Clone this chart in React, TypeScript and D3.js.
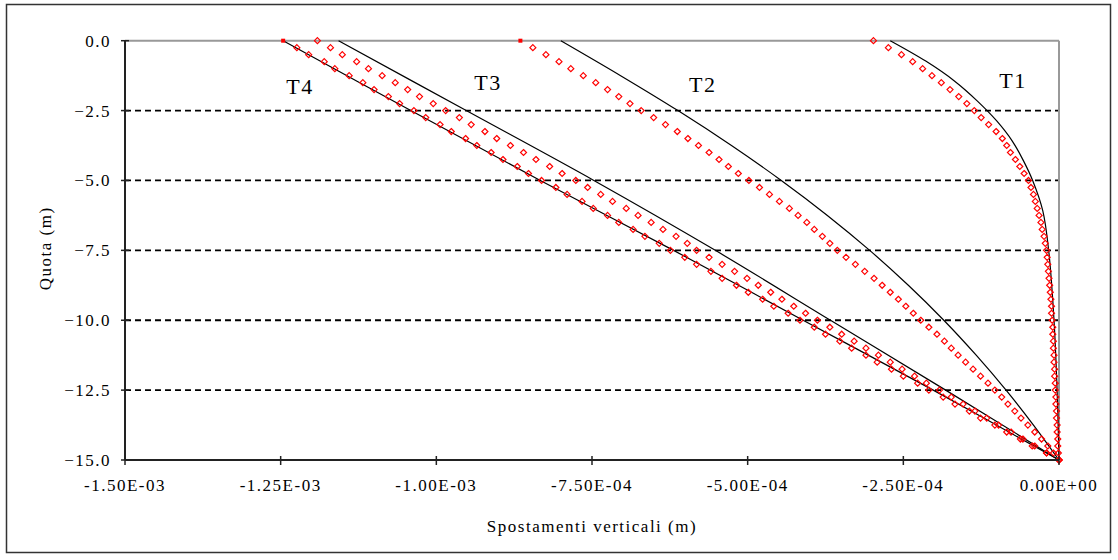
import React from 'react';
import * as d3 from 'd3';

// displacements are kept in units of 1e-4 m
const UNIT = 1e-4;

const xTicks = [-15, -12.5, -10, -7.5, -5, -2.5, 0];
const yTicks = [0, -2.5, -5, -7.5, -10, -12.5, -15];
const gridQuota = [-2.5, -5, -7.5, -10, -12.5];

// quota of the measured (red) points, m
const markerQuota = [
  0, -0.25, -0.5, -0.75, -1, -1.25, -1.5, -1.75, -2, -2.25,
  -2.5, -2.75, -3, -3.25, -3.5, -3.75, -4, -4.25, -4.5, -4.75,
  -5, -5.25, -5.5, -5.75, -6, -6.25, -6.5, -6.75, -7, -7.25,
  -7.5, -7.75, -8, -8.25, -8.5, -8.75, -9, -9.25, -9.5, -9.75,
  -10, -10.25, -10.5, -10.75, -11, -11.25, -11.5, -11.75, -12, -12.25,
  -12.5, -12.75, -13, -13.25, -13.5, -13.75, -14, -14.25, -14.5, -14.75,
  -15,
];

const t1Marks = [
  -2.98, -2.74, -2.53, -2.35, -2.19, -2.04, -1.89, -1.75, -1.61, -1.48,
  -1.36, -1.25, -1.13, -1.01, -0.91, -0.84, -0.78, -0.7, -0.63, -0.56,
  -0.49, -0.45, -0.41, -0.38, -0.35, -0.32, -0.29, -0.27, -0.24, -0.22,
  -0.2, -0.19, -0.18, -0.17, -0.16, -0.15, -0.14, -0.13, -0.12, -0.12,
  -0.11, -0.1, -0.1, -0.09, -0.09, -0.08, -0.08, -0.07, -0.07, -0.06,
  -0.06, -0.05, -0.05, -0.04, -0.04, -0.03, -0.03, -0.02, -0.02, -0.01,
  0,
];
const t2Marks = [
  -8.65, -8.45, -8.24, -8.03, -7.84, -7.64, -7.44, -7.25, -7.07, -6.89,
  -6.71, -6.51, -6.32, -6.13, -5.96, -5.79, -5.62, -5.46, -5.31, -5.15,
  -4.98, -4.81, -4.65, -4.49, -4.33, -4.19, -4.05, -3.93, -3.8, -3.68,
  -3.56, -3.42, -3.27, -3.12, -2.97, -2.84, -2.71, -2.58, -2.46, -2.34,
  -2.22, -2.09, -1.96, -1.84, -1.73, -1.62, -1.5, -1.38, -1.26, -1.14,
  -1.03, -0.92, -0.82, -0.71, -0.61, -0.5, -0.39, -0.28, -0.18, -0.09,
  0,
];
const t3Marks = [
  -11.91, -11.7, -11.51, -11.28, -11.09, -10.87, -10.66, -10.46, -10.27, -10.05,
  -9.85, -9.63, -9.44, -9.22, -9.03, -8.81, -8.6, -8.4, -8.18, -7.98,
  -7.76, -7.57, -7.36, -7.17, -6.95, -6.76, -6.55, -6.36, -6.15, -5.97,
  -5.82, -5.62, -5.41, -5.21, -5.01, -4.83, -4.63, -4.45, -4.26, -4.07,
  -3.88, -3.68, -3.49, -3.29, -3.1, -2.9, -2.71, -2.52, -2.32, -2.13,
  -1.92, -1.73, -1.54, -1.35, -1.16, -0.97, -0.77, -0.58, -0.39, -0.2,
  0,
];
const t4Marks = [
  -12.46, -12.24, -12.05, -11.8, -11.63, -11.4, -11.18, -11.0, -10.77, -10.59,
  -10.36, -10.17, -9.94, -9.76, -9.53, -9.35, -9.12, -8.93, -8.7, -8.52,
  -8.31, -8.08, -7.9, -7.66, -7.48, -7.25, -7.07, -6.84, -6.65, -6.42,
  -6.24, -6.01, -5.82, -5.59, -5.41, -5.18, -4.99, -4.76, -4.58, -4.35,
  -4.16, -3.93, -3.75, -3.52, -3.33, -3.1, -2.92, -2.69, -2.5, -2.27,
  -2.09, -1.86, -1.67, -1.44, -1.26, -1.03, -0.84, -0.62, -0.43, -0.2,
  0,
];

// theoretical curves (black)
const t1LineQuota = [0, -0.73, -1.44, -2.16, -2.87, -3.59, -4.3, -5.02, -6.09, -7.52, -10, -12.53, -15];
const t1Line = [-2.71, -2.14, -1.68, -1.31, -1.0, -0.75, -0.57, -0.42, -0.26, -0.165, -0.08, -0.03, 0];
const t2LineQuota = [0, -1.25, -2.5, -3.75, -5, -6.25, -7.5, -8.75, -10, -11.25, -12.5, -13.75, -15];
const t2Line = [-8.0, -7.04, -6.12, -5.26, -4.46, -3.72, -3.04, -2.42, -1.85, -1.33, -0.85, -0.41, 0];
const t3LineQuota = [0, -2.5, -5, -7.5, -10, -12.5, -15];
const t3Line = [-11.57, -9.52, -7.47, -5.52, -3.67, -1.82, 0];
const t4LineQuota = [0, -2.5, -5, -7.5, -10, -12.5, -15];
const t4Line = [-12.46, -10.41, -8.33, -6.19, -4.11, -2.02, 0];

const seriesNames = ['T1', 'T2', 'T3', 'T4'];
const labelPos = [
  { x: -0.74, q: -1.43 },
  { x: -5.72, q: -1.57 },
  { x: -9.17, q: -1.5 },
  { x: -12.19, q: -1.64 },
];

const series = [
  { marks: t1Marks, lq: t1LineQuota, lv: t1Line, filledFirst: false },
  { marks: t2Marks, lq: t2LineQuota, lv: t2Line, filledFirst: true },
  { marks: t3Marks, lq: t3LineQuota, lv: t3Line, filledFirst: false },
  { marks: t4Marks, lq: t4LineQuota, lv: t4Line, filledFirst: true },
];

const FONT = "'Liberation Serif', 'Times New Roman', serif";

const fmtX = (v: number) => {
  const s = (v * UNIT).toExponential(2).toUpperCase();
  const [m, e] = s.split('E');
  const sign = e[0] === '-' ? '-' : '+';
  return `${m}E${sign}${e.replace(/^[+-]/, '').padStart(2, '0')}`;
};

const diamond = 'M0,-3L3,0L0,3L-3,0Z';

export default function App() {
  const left = 125, right = 1059, top = 40.7, bottom = 460;
  const x = d3.scaleLinear().domain([-15, 0]).range([left, right]);
  const y = d3.scaleLinear().domain([0, -15]).range([top, bottom]);
  const line = d3
    .line<[number, number]>()
    .x(d => x(d[0]))
    .y(d => y(d[1]))
    .curve(d3.curveCatmullRom.alpha(0.5));

  return (
    <svg
      width={1118}
      height={560}
      style={{ position: 'absolute', left: 0, top: 0, background: '#fff' }}
      fontFamily={FONT}
    >
      <rect x={6.5} y={4.5} width={1104} height={548} fill="#fff" stroke="#333" strokeWidth={1.5} />

      {/* grid */}
      {gridQuota.map(q => (
        <line key={q} x1={left} x2={right} y1={y(q)} y2={y(q)} stroke="#000" strokeWidth={1.8} strokeDasharray="6,4" />
      ))}
      {/* plot frame top / right */}
      <line x1={left} x2={right} y1={top} y2={top} stroke="#999" strokeWidth={2} />
      <line x1={right} x2={right} y1={top} y2={bottom} stroke="#999" strokeWidth={2} />

      {/* theoretical curves */}
      {series.map((s, i) => (
        <path
          key={'l' + i}
          d={line(s.lv.map((v, j) => [v, s.lq[j]] as [number, number])) || ''}
          fill="none"
          stroke="#000"
          strokeWidth={1.2}
        />
      ))}

      {/* measured points */}
      {series.map((s, i) => (
        <g key={'m' + i}>
          {s.marks.map((v, j) =>
            j === 0 && s.filledFirst ? (
              <rect key={j} x={x(v) - 2} y={y(markerQuota[j]) - 2} width={4} height={4} fill="#f00" />
            ) : (
              <path
                key={j}
                d={diamond}
                transform={`translate(${x(v)},${y(markerQuota[j])})`}
                fill="none"
                stroke="#f00"
                strokeWidth={1.2}
              />
            )
          )}
        </g>
      ))}

      {/* axes */}
      <line x1={left} x2={left} y1={top} y2={bottom} stroke="#222" strokeWidth={2} />
      <line x1={left} x2={right} y1={bottom} y2={bottom} stroke="#222" strokeWidth={2} />
      {yTicks.map(t => (
        <g key={'yt' + t}>
          <line x1={left - 4} x2={left + 4} y1={y(t)} y2={y(t)} stroke="#222" strokeWidth={1.5} />
          <text x={left - 14} y={y(t)} dy="0.35em" textAnchor="end" fontSize={17} letterSpacing={1.5}>
            {d3.format('.1f')(t)}
          </text>
        </g>
      ))}
      {xTicks.map(t => (
        <g key={'xt' + t}>
          <line x1={x(t)} x2={x(t)} y1={bottom - 4} y2={bottom + 5} stroke="#222" strokeWidth={1.5} />
          <text x={x(t)} y={485} dy="0.35em" textAnchor="middle" fontSize={17} letterSpacing={1.5}>
            {fmtX(t)}
          </text>
        </g>
      ))}

      <text x={(left + right) / 2} y={526} dy="0.35em" textAnchor="middle" fontSize={17} letterSpacing={1.5}>
        Spostamenti verticali (m)
      </text>
      <text
        transform={`translate(45,${(top + bottom) / 2 - 2}) rotate(-90)`}
        dy="0.35em"
        textAnchor="middle"
        fontSize={17}
        letterSpacing={1.5}
      >
        Quota (m)
      </text>

      {seriesNames.map((n, i) => (
        <text
          key={n}
          x={x(labelPos[i].x)}
          y={y(labelPos[i].q)}
          dy="0.35em"
          textAnchor="middle"
          fontSize={22}
          letterSpacing={1.5}
        >
          {n}
        </text>
      ))}
    </svg>
  );
}
